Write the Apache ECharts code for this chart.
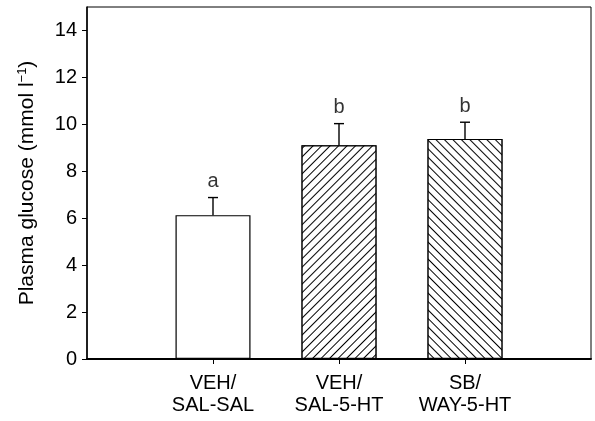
<!DOCTYPE html>
<html><head><meta charset="utf-8">
<script src="https://cdn.jsdelivr.net/npm/echarts@6/dist/echarts.min.js"></script>
<style>html,body{margin:0;padding:0;background:#fff}#c{width:595px;height:421px}</style>
</head><body><div id="c"></div>
<script>
const categories = ['', 'VEH/\nSAL-SAL', 'VEH/\nSAL-5-HT', 'SB/\nWAY-5-HT', ''];
const means = [null, 6.13, 9.11, 9.38, null];
const errorTops = [null, 6.88, 10.03, 10.09, null];
const letters = ['', 'a', 'b', 'b', ''];
const yTicks = [0, 2, 4, 6, 8, 10, 12, 14];

function decal(rot) {
  return {symbol: 'rect', symbolSize: 1, dashArrayX: [1, 0], dashArrayY: [1, 4.2], rotation: rot, color: '#000', backgroundColor: '#fff'};
}
const decals = [null, null, decal(-Math.PI / 4), decal(Math.PI / 4), null];

const chart = echarts.init(document.getElementById('c'), null, {renderer: 'canvas'});
const font = 'Liberation Sans, Arial, sans-serif';
chart.setOption({
  animation: false,
  grid: {left: 87, right: 4, top: 7, bottom: 62, show: true, borderColor: '#000', borderWidth: 1, backgroundColor: 'transparent'},
  xAxis: {
    type: 'category', data: categories, boundaryGap: false,
    axisLine: {lineStyle: {color: '#000', width: 2}},
    axisTick: {length: 5, lineStyle: {color: '#000', width: 1}, interval: function (i) { return i >= 1 && i <= 3; }},
    axisLabel: {interval: 0, color: '#000', fontFamily: font, fontSize: 20, lineHeight: 22, margin: 13},
    splitLine: {show: false}
  },
  yAxis: {
    type: 'value', min: 0, max: 15,
    name: 'Plasma glucose (mmol l{s|−1})', nameLocation: 'middle', nameGap: 49,
    nameTextStyle: {color: '#000', fontFamily: font, fontSize: 21, rich: {s: {fontSize: 13, verticalAlign: 'top', padding: [0, 0, 9, 0], fontFamily: font, color: '#000'}}},
    axisLine: {show: true, lineStyle: {color: '#000', width: 1.5}},
    axisTick: {show: true, length: 5, lineStyle: {color: '#000', width: 1}, customValues: yTicks},
    axisLabel: {color: '#000', fontFamily: font, fontSize: 20, margin: 10, customValues: yTicks},
    splitLine: {show: false}
  },
  series: [
    {
      type: 'bar', barWidth: 75,
      data: means.map((v, i) => {
        const st = {color: '#fff', borderColor: '#000', borderWidth: 1.2};
        if (decals[i]) st.decal = decals[i];
        return {value: v, itemStyle: st};
      }),
      z: 2
    },
    {
      type: 'custom', z: 3,
      data: means.map((v, i) => [i, v, errorTops[i]]),
      renderItem: function (params, api) {
        const v = api.value(1), e = api.value(2);
        if (v == null || isNaN(v)) return null;
        const p0 = api.coord([api.value(0), v]);
        const p1 = api.coord([api.value(0), e]);
        const cap = 5;
        return {
          type: 'group',
          children: [
            {type: 'line', shape: {x1: p0[0], y1: p0[1], x2: p1[0], y2: p1[1]}, style: {stroke: '#000', lineWidth: 1.4}},
            {type: 'line', shape: {x1: p1[0] - cap, y1: p1[1], x2: p1[0] + cap, y2: p1[1]}, style: {stroke: '#000', lineWidth: 1.4}}
          ]
        };
      }
    },
    {
      type: 'scatter', symbolSize: 0, z: 4,
      data: errorTops.map((e, i) => e == null ? null : {value: [i, e], label: {show: true, formatter: letters[i]}}),
      label: {position: 'top', distance: 6, color: '#000', fontFamily: font, fontSize: 20}
    }
  ]
});
</script></body></html>
